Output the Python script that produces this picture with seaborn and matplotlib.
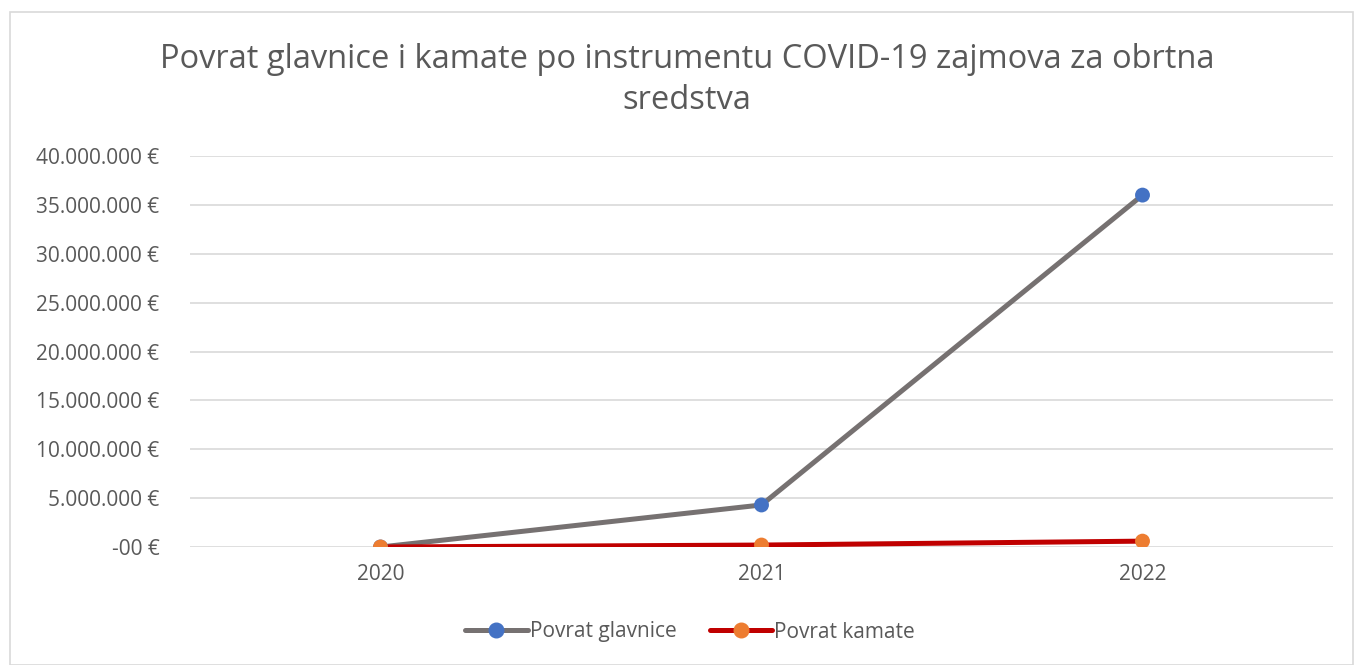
import pandas as pd
import matplotlib.pyplot as plt
import seaborn as sns
from matplotlib.lines import Line2D
from matplotlib.patches import Rectangle
from matplotlib.ticker import FuncFormatter

# Data
years = ["2020", "2021", "2022"]
povrat_glavnice = [0, 4300000, 36000000]
povrat_kamate = [0, 200000, 600000]
series_names = ["Povrat glavnice", "Povrat kamate"]

line_colors = ["#767171", "#C00000"]
marker_colors = ["#4472C4", "#ED7D31"]
text_color = "#595959"

df = pd.DataFrame({
    "year": years * 2,
    "value": povrat_glavnice + povrat_kamate,
    "series": [series_names[0]] * 3 + [series_names[1]] * 3,
})

sns.set_theme(style="white")
plt.rcParams["font.family"] = ["Open Sans", "DejaVu Sans"]

fig = plt.figure(figsize=(13.54, 6.65), dpi=100)
ax = fig.add_axes([190 / 1354, 1 - 547 / 665, 1143 / 1354, 391 / 665])

# Lines then markers, so marker colours can differ from the lines
sns.lineplot(data=df, x="year", y="value", hue="series", palette=line_colors,
             linewidth=3.6, sort=False, legend=False, ax=ax)
sns.scatterplot(data=df, x="year", y="value", hue="series", palette=marker_colors,
                s=115, edgecolor="none", legend=False, zorder=5, ax=ax)

ax.set_xlim(-0.5, 2.5)
ax.set_ylim(0, 40000000)
ax.set_yticks(range(0, 40000001, 5000000))


def euro(v, pos):
    if v == 0:
        return "-00 €"
    return f"{v:,.0f}".replace(",", ".") + " €"


ax.yaxis.set_major_formatter(FuncFormatter(euro))
ax.grid(axis="y", color="#D9D9D9", linewidth=1.2)
ax.set_axisbelow(True)
for s in ax.spines.values():
    s.set_visible(False)
ax.tick_params(axis="both", length=0, labelsize=15, colors=text_color)
ax.tick_params(axis="y", pad=22)
ax.tick_params(axis="x", pad=12)
ax.set_xlabel("")
ax.set_ylabel("")

fig.text(687 / 1354, 1 - 80 / 665,
         "Povrat glavnice i kamate po instrumentu COVID-19 zajmova za obrtna\nsredstva",
         ha="center", va="center", fontsize=23.5, color=text_color,
         linespacing=1.3)

handles = [
    Line2D([], [], color=line_colors[i], linewidth=3.6, marker="o",
           markersize=10.5, markerfacecolor=marker_colors[i],
           markeredgecolor=marker_colors[i])
    for i in range(2)
]
fig.legend(handles, series_names, loc="center", bbox_to_anchor=(690 / 1354, 1 - 632 / 665),
           ncol=2, frameon=False, fontsize=15, labelcolor=text_color,
           handlelength=3.0, handletextpad=0.1, columnspacing=1.6)

fig.patches.append(Rectangle((10 / 1354, 0), 1343 / 1354, 1 - 12 / 665,
                             transform=fig.transFigure, fill=False,
                             edgecolor="#D9D9D9", linewidth=1.2))

fig.savefig("out.png", dpi=100)
